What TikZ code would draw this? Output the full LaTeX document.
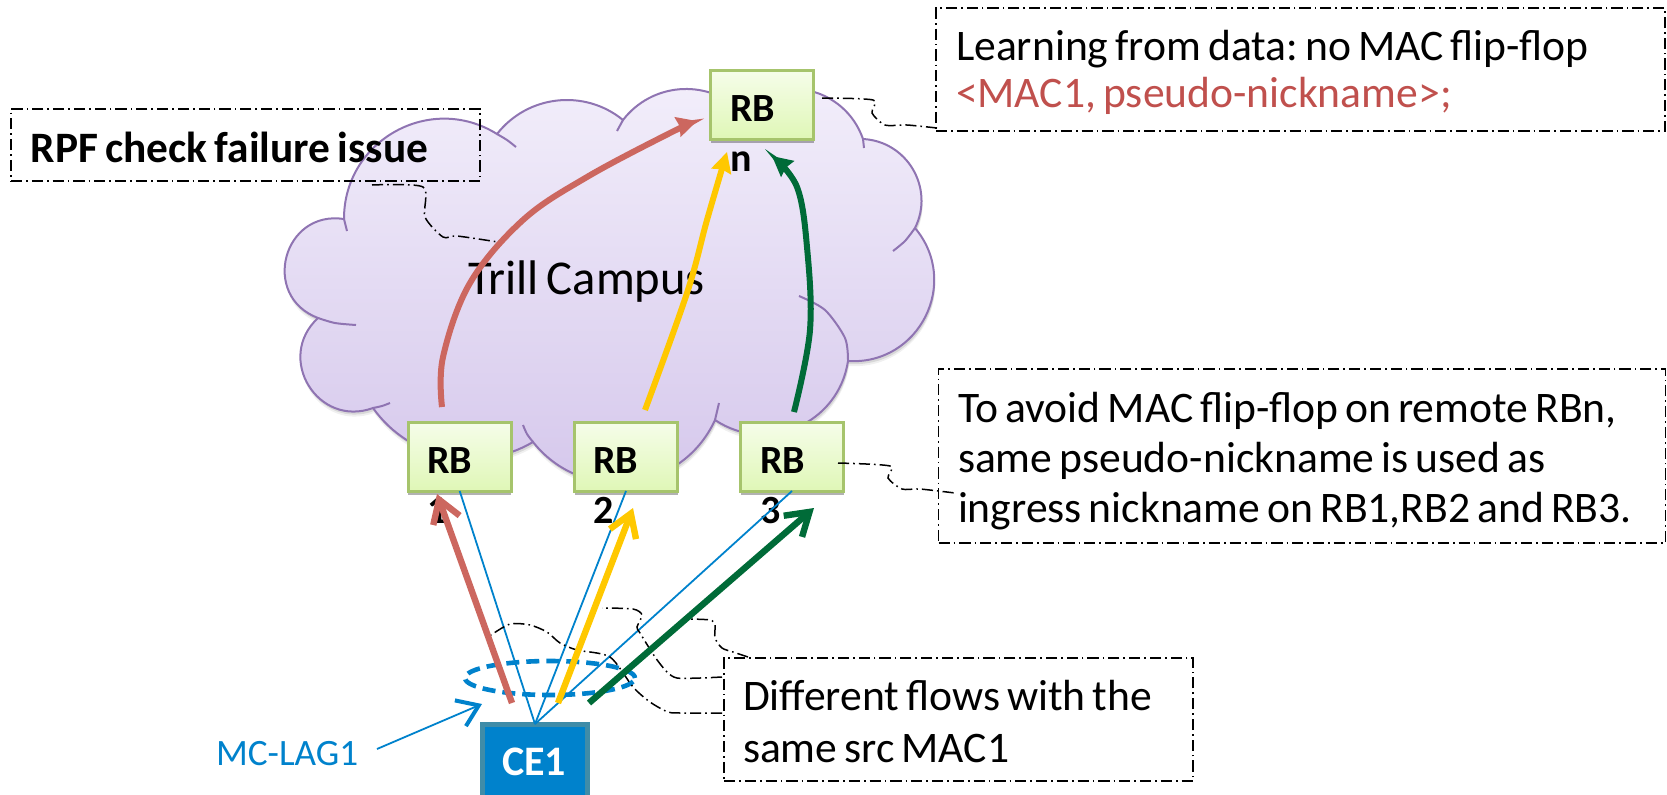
\documentclass[tikz,border=0pt]{standalone}
\usepackage{fontspec}
\setmainfont[WordSpace=0.72]{Carlito}
\usetikzlibrary{arrows.meta,shadows,shapes.geometric,calc}
\frenchspacing
\definecolor{cloudtop}{HTML}{F3EFFB}
\definecolor{cloudbot}{HTML}{D4C6EB}
\definecolor{cloudline}{HTML}{8F74B2}
\definecolor{rbtop}{HTML}{F6FDEA}
\definecolor{rbbot}{HTML}{DFF7B6}
\definecolor{rbline}{HTML}{A6C46C}
\definecolor{flowred}{HTML}{CC675F}
\definecolor{flowyel}{HTML}{FFC800}
\definecolor{flowgrn}{HTML}{006B38}
\definecolor{lagblue}{HTML}{0082CC}
\definecolor{ceedge}{HTML}{3F8CA8}
\definecolor{notered}{HTML}{C0504D}
\tikzset{
  rbbox/.style={rectangle,draw=rbline,line width=1.5pt,top color=rbtop,bottom color=rbbot,
    minimum width=51.5pt,minimum height=34.5pt,inner sep=0pt,outer sep=0pt,
    drop shadow={shadow xshift=0pt,shadow yshift=-2pt,opacity=.3,fill=black}},
  rbtext/.style={anchor=base west,inner sep=0pt,outer sep=0pt,align=left,
    font=\fontsize{20}{25}\selectfont\bfseries},
  dd/.style={black,line width=.8pt,dash pattern=on 5.6pt off 2pt on .8pt off 2pt},
  ddbox/.style={rectangle,dd,draw,inner sep=0pt,outer sep=0pt},
  notetext/.style={anchor=base west,inner sep=0pt,outer sep=0pt,align=left},
  ddline/.style={dd,line width=.75pt},
  link/.style={lagblue,line width=.9pt},
  cloudedge/.style={cloudline,line width=1pt},
  bigflow/.style={line width=3.2pt,-{Straight Barb[length=11pt,width=14pt,line width=3.2pt]}},
  curveflow/.style={line width=3pt,-{Stealth[length=10pt,width=10pt,inset=1pt]}},
}
% each bump of the cloud is one cubic: start, end, bulge ratio (sag / half chord)
\def\cloudoutline{(344,219)}
\newcommand\addbump[5]{%
  \pgfmathsetmacro\bdx{#3-#1}\pgfmathsetmacro\bdy{#4-#2}%
  \pgfmathsetmacro\bqa{2*#5/3}\pgfmathsetmacro\bqb{(1-#5*#5)/3}%
  \pgfmathsetmacro\cax{#1+\bqa*\bdy+\bqb*\bdx}%
  \pgfmathsetmacro\cay{#2-\bqa*\bdx+\bqb*\bdy}%
  \pgfmathsetmacro\cbx{#3+\bqa*\bdy-\bqb*\bdx}%
  \pgfmathsetmacro\cby{#4-\bqa*\bdx-\bqb*\bdy}%
  \xdef\cloudoutline{\cloudoutline .. controls (\cax,\cay) and (\cbx,\cby) .. (#3,#4)}}
\addbump{344}{219}{497}{134}{.59}
\addbump{497}{134}{623}{120}{.42}
\addbump{623}{120}{740}{110}{.44}
\addbump{740}{110}{863}{139}{.55}
\addbump{863}{139}{915}{228}{.54}
\addbump{915}{228}{848}{361}{.66}
\addbump{848}{361}{715}{420}{.55}
\addbump{715}{420}{533}{442}{.56}
\addbump{533}{442}{373}{408}{.39}
\addbump{373}{408}{318}{318}{.82}
\addbump{318}{318}{344}{219}{.90}
\begin{document}
\begin{tikzpicture}[x=.5pt,y=-.5pt]
\useasboundingbox (0,0) rectangle (1667,794);
\clip (0,0) rectangle (1667,794);
% cloud
\begin{scope}[shift={(1,5)}]
  \fill[black,opacity=.06] \cloudoutline -- cycle;
\end{scope}
\begin{scope}[shift={(1,3)}]
  \fill[black,opacity=.10] \cloudoutline -- cycle;
\end{scope}
\shade[top color=cloudtop,bottom color=cloudbot,draw=cloudline,line width=1pt] \cloudoutline -- cycle;
\draw[cloudedge] (344,219) -- (347,231);
\draw[cloudedge] plot[smooth] coordinates {(497,134)(507,140)(516,147)};
\draw[cloudedge] (623,120) -- (617,131);
\draw[cloudedge] (863,139) -- (864,148);
\draw[cloudedge] plot[smooth] coordinates {(915,228)(905,241)(893,251)};
\draw[cloudedge] plot[smooth] coordinates {(848,361)(845,338)(825,310)(799,296)};
\draw[cloudedge] (715,420) -- (719,403);
\draw[cloudedge] plot[smooth] coordinates {(533,442)(527,434)(523,425)};
\draw[cloudedge] plot[smooth] coordinates {(373,408)(382,406)(390,403)};
\draw[cloudedge] plot[smooth] coordinates {(318,318)(335,323)(356,325)};
\node[notetext,font=\fontsize{24.3}{26}\selectfont] (trill) at (468,294) {Trill Campus};
% callouts
\node[ddbox,minimum width=234.5pt,minimum height=36pt] (rpf) at (245.5,145) {};
\node[notetext,font=\fontsize{21.7}{24}\selectfont\bfseries] (rpft) at (31,162) {RPF check failure issue};
\node[ddbox,minimum width=364.5pt,minimum height=61.5pt] (learn) at (1300.5,69.5) {};
\node[notetext,font=\fontsize{21.8}{23.5}\selectfont] (learnt) at (956,107) {Learning from data: no MAC flip-flop\\\textcolor{notered}{<MAC1, pseudo-nickname>;}};
\node[ddbox,minimum width=363.5pt,minimum height=87pt] (avoid) at (1302,456) {};
\node[notetext,font=\fontsize{21.8}{25}\selectfont] (avoidt) at (958,522) {To avoid MAC flip-flop on remote RBn,\\same pseudo-nickname is used as\\ingress nickname on RB1,RB2 and RB3.};
\node[ddbox,minimum width=234.5pt,minimum height=61.5pt] (diff) at (958.5,719.5) {};
\node[notetext,font=\fontsize{21.8}{26}\selectfont] (difft) at (743,762) {Different flows with the\\same src MAC1};
% RB boxes
\node[rbbox] (rbn) at (762,104.5) {};
\node[rbbox] (rb1) at (459.7,456.5) {};
\node[rbbox] (rb2) at (626,456.5) {};
\node[rbbox] (rb3) at (792,456.5) {};
\node[rbtext] (rbnt) at (730,171) {RB\\n};
\node[rbtext] (rb1t) at (427,523) {RB\\1};
\node[rbtext] (rb2t) at (593,523) {RB\\2};
\node[rbtext] (rb3t) at (760,523) {RB\\3};
% CE
\node[rectangle,draw=ceedge,line width=2.5pt,fill=lagblue,minimum width=52.5pt,minimum height=50pt,inner sep=0pt,outer sep=0pt] (ce) at (535,774) {};
\node[anchor=base,inner sep=0pt,text=white,font=\fontsize{21}{24}\selectfont\bfseries] (cet) at (534,775) {CE1};
% links
\draw[link] (ce.north) -- (rb1.south);
\draw[link] (ce.north) -- (rb2.south);
\draw[link] (ce.north) -- (rb3.south);
\node[ellipse,draw=lagblue,line width=2.3pt,dash pattern=on 6.5pt off 3.5pt,minimum width=85pt,minimum height=17pt,inner sep=0pt] (lag) at (550,678) {};
% MC-LAG label
\node[notetext,text=lagblue,font=\fontsize{18.6}{20}\selectfont] (mclag) at (216,765) {MC-LAG1};
\coordinate (lagfrom) at (377,749);
\coordinate (lagto) at (482,704);
\draw[link,-{Straight Barb[length=10pt,width=14pt,line width=2pt]}] (lagfrom) -- (lagto);
% callout leaders
\coordinate (rpfA) at (372,185);
\coordinate (rpfB) at (498,242);
\draw[ddline] plot[smooth,tension=.45] coordinates {(rpfA)(423,187)(425,217)(443,237)(457,236)(rpfB)};
\coordinate (lrnA) at (822,98);
\coordinate (lrnB) at (937,128);
\draw[ddline] plot[smooth,tension=.45] coordinates {(lrnA)(873,100)(872,113)(885,125)(907,125)(lrnB)};
\coordinate (avdA) at (838,463);
\coordinate (avdB) at (955,493);
\draw[ddline] plot[smooth,tension=.45] coordinates {(avdA)(890,466)(888,478)(902,489)(920,489)(avdB)};
\coordinate (difA) at (722,713);
\coordinate (difB) at (491,635);
\draw[ddline] plot[smooth,tension=.45] coordinates {(difA)(683,713)(668,712)(650,702)(633,687)(610,657)(577,650)(560,643)(547,632)(530,625)(510,624)(difB)};
\coordinate (difC) at (722,677);
\coordinate (difD) at (602,608);
\draw[ddline] plot[smooth,tension=.45] coordinates {(difC)(700,678)(677,678)(667,672)(655,657)(640,633)(637,627)(642,615)(633,609)(difD)};
\coordinate (difE) at (748,657);
\coordinate (difF) at (688,619);
\draw[ddline] plot[smooth,tension=.45] coordinates {(difE)(733,652)(722,648)(715,638)(715,625)(710,620)(difF)};
% flows in the cloud
\coordinate (rfrom) at (442,407);
\coordinate (rto) at (697,121);
\coordinate (yfrom) at (645,410);
\coordinate (yto) at (727,152);
\coordinate (gfrom) at (794,412);
\coordinate (gto) at (772,156);
\draw[curveflow,flowred] plot[smooth,tension=.6] coordinates {(rfrom)(443,357)(470,283)(523,220)(587,177)(670,133)(rto)};
\draw[curveflow,flowyel] plot[smooth,tension=.6] coordinates {(yfrom)(687,293)(707,220)(yto)};
\draw[curveflow,flowgrn] plot[smooth,tension=.6] coordinates {(gfrom)(810,330)(807,247)(797,187)(gto)};
% flows from CE1
\coordinate (r2from) at (512,703);
\coordinate (r2to) at (437,494);
\coordinate (y2from) at (558,703);
\coordinate (y2to) at (633,508);
\coordinate (g2from) at (589,703);
\coordinate (g2to) at (814,508);
\draw[bigflow,flowred] (r2from) -- (r2to);
\draw[bigflow,flowyel] (y2from) -- (y2to);
\draw[bigflow,flowgrn] (g2from) -- (g2to);
\end{tikzpicture}
\end{document}
